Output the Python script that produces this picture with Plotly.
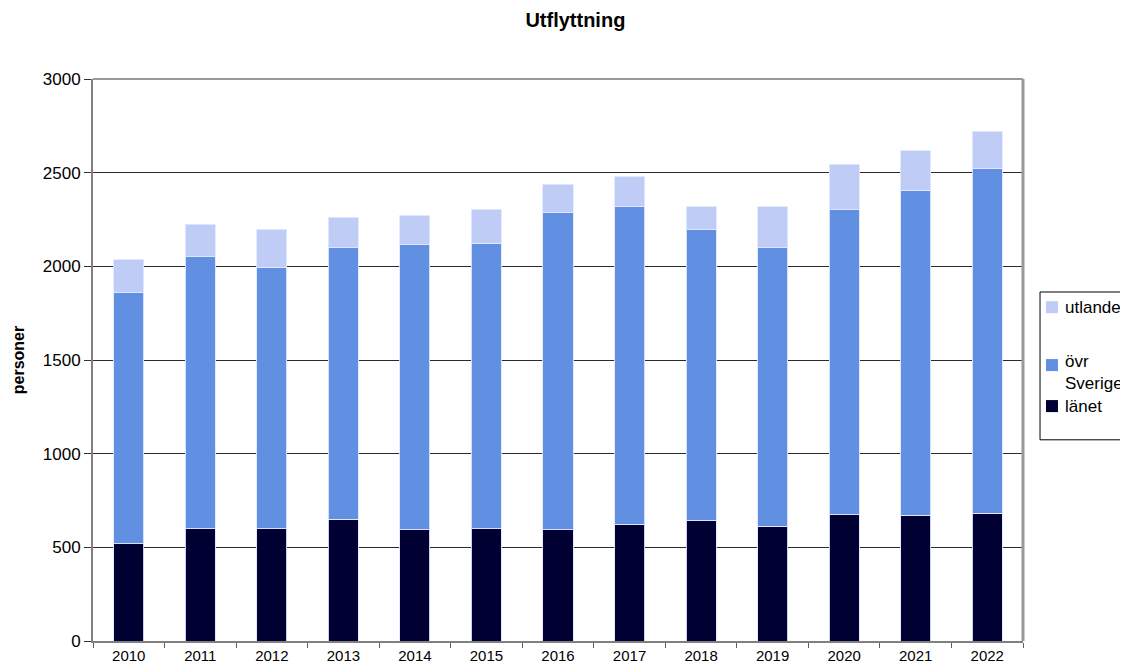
import plotly.graph_objects as go

years = ["2010", "2011", "2012", "2013", "2014", "2015", "2016", "2017", "2018", "2019", "2020", "2021", "2022"]
lanet = [520, 600, 600, 650, 593, 600, 593, 622, 645, 612, 673, 670, 683]
ovr_sverige = [1343, 1450, 1396, 1448, 1521, 1524, 1692, 1695, 1549, 1486, 1628, 1737, 1837]
utlandet = [171, 176, 203, 165, 160, 182, 154, 160, 123, 219, 245, 209, 202]

series_names = ["länet", "övr<br>Sverige", "utlandet"]
series_colors = ["#000033", "#6190E3", "#BFCCF5"]
series_values = [lanet, ovr_sverige, utlandet]

font_family = "Liberation Sans, Arial, sans-serif"
edge = dict(color="rgba(225,232,255,0.9)", width=1)

fig = go.Figure()
for name, color, vals in zip(series_names, series_colors, series_values):
    fig.add_trace(go.Bar(x=years, y=vals, name=name, showlegend=False,
                         marker=dict(color=color, line=edge)))

fig.update_layout(
    width=1128, height=666,
    barmode="stack", bargap=0.58,
    paper_bgcolor="white", plot_bgcolor="white",
    margin=dict(l=85, r=113, t=71, b=33, autoexpand=False),
    font=dict(family=font_family, color="black"),
    title=dict(text="<b>Utflyttning</b>", x=0.503, xanchor="center", y=0.982, yanchor="middle",
               font=dict(size=20, family=font_family)),
)
fig.update_yaxes(
    range=[0, 3000], dtick=500, showgrid=True, gridcolor="#2a2a2a", gridwidth=1,
    showline=True, linecolor="#808080", linewidth=2, mirror=False,
    ticks="outside", ticklen=7, tickcolor="#333333",
    tickfont=dict(size=17, family=font_family),
    title=dict(text="<b>personer</b>", font=dict(size=16, family=font_family), standoff=14),
    zeroline=False,
)
fig.update_xaxes(
    showline=True, linecolor="#808080", linewidth=2,
    tickfont=dict(size=15, family=font_family),
    ticks="outside", ticklen=5, tickcolor="#606060", tickson="boundaries",
)
# plot area border (top and right)
fig.add_shape(type="line", xref="paper", yref="paper", x0=1, x1=1, y0=0, y1=1,
              line=dict(color="#999999", width=3))
fig.add_shape(type="line", xref="paper", yref="paper", x0=0, x1=1, y0=1, y1=1,
              line=dict(color="#999999", width=2))

# legend box (overflowing the right edge like the reference)
fig.add_shape(type="rect", xref="paper", yref="paper", x0=1.0183, x1=1.2, y0=0.358, y1=0.621,
              line=dict(color="black", width=1), fillcolor="white", layer="above")
legend_y = {"utlandet": 0.594, "övr<br>Sverige": 0.491, "länet": 0.418}
legend_text_y = {"utlandet": 0.594, "övr<br>Sverige": 0.478, "länet": 0.418}
for name, color in zip(series_names, series_colors):
    yc = legend_y[name]
    fig.add_shape(type="rect", xref="paper", yref="paper", x0=1.0247, x1=1.0376,
                  y0=yc - 0.0107, y1=yc + 0.0107, fillcolor=color,
                  line=dict(color=color, width=0), layer="above")
    fig.add_annotation(xref="paper", yref="paper", x=1.043, y=legend_text_y[name],
                       xanchor="left", yanchor="middle", text=name, showarrow=False,
                       align="left", font=dict(size=17, family=font_family, color="black"))

fig.write_html("out.html")
